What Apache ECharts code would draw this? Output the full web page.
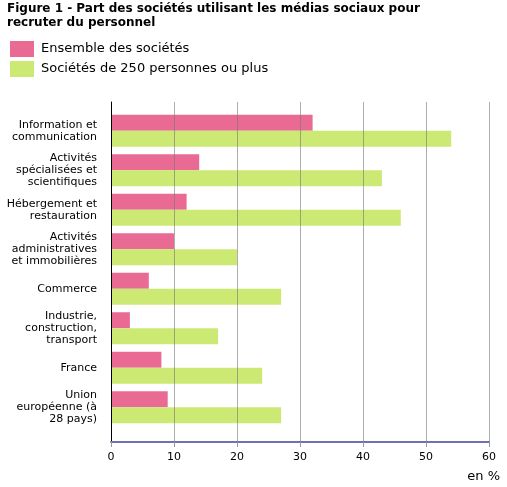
<!DOCTYPE html>
<html><head><meta charset="utf-8">
<script src="https://cdn.jsdelivr.net/npm/echarts@6/dist/echarts.min.js"></script>
<style>html,body{margin:0;padding:0;background:#fff}#c{width:507px;height:487px}</style>
</head><body><div id="c"></div>
<script>
var categories = ["Information et\ncommunication", "Activités\nspécialisées et\nscientifiques", "Hébergement et\nrestauration", "Activités\nadministratives\net immobilières", "Commerce", "Industrie,\nconstruction,\ntransport", "France", "Union\neuropéenne (à\n28 pays)"];
var seriesNames = ["Ensemble des sociétés", "Sociétés de 250 personnes ou plus"];
var ensemble = [32, 14, 12, 10, 6, 3, 8, 9];
var grandes = [54, 43, 46, 20, 27, 17, 24, 27];
var titleText = "Figure 1 - Part des sociétés utilisant les médias sociaux pour\nrecruter du personnel";
var unitText = "en %";
var colors = ["#e96a93", "#cce974"];
var font = "DejaVu Sans";

var chart = echarts.init(document.getElementById('c'), null, {renderer: 'canvas'});
chart.setOption({
  animation: false,
  title: {text: titleText, left: 2, top: -3, textStyle: {fontFamily: font, fontSize: 12, fontWeight: 'bold', color: '#000', lineHeight: 14}},
  legend: {
    orient: 'vertical', left: 5, top: 36, itemWidth: 24, itemHeight: 16, itemGap: 4, icon: 'rect',
    textStyle: {fontFamily: font, fontSize: 13, color: '#000', padding: [0,0,0,2]},
    data: seriesNames
  },
  grid: [
    {left: 111, right: 18, top: 102, height: 340, containLabel: false},
    {left: 111, right: 18, top: 111, height: 316, containLabel: false}
  ],
  xAxis: [
    {gridIndex: 0, type: 'value', min: 0, max: 60, interval: 10, z: 10,
     axisLine: {show: true, lineStyle: {color: '#7070b8', width: 2}},
     axisTick: {show: true, length: 5, lineStyle: {color: '#999'}},
     axisLabel: {fontFamily: font, fontSize: 11, color: '#000', margin: 10},
     splitLine: {show: true, lineStyle: {color: 'rgba(120,120,120,0.6)', width: 1}}},
    {gridIndex: 1, type: 'value', min: 0, max: 60, show: false, splitLine: {show: false}}
  ],
  yAxis: [
    {gridIndex: 0, type: 'value', min: 0, max: 1, z: 10,
     axisLine: {show: true, lineStyle: {color: '#000', width: 1}},
     axisTick: {show: false}, axisLabel: {show: false}, splitLine: {show: false}},
    {gridIndex: 1, type: 'category', inverse: true, data: categories,
     axisLine: {show: false}, axisTick: {show: false},
     axisLabel: {fontFamily: font, fontSize: 11, color: '#000', margin: 14, lineHeight: 12, align: 'right'}}
  ],
  graphic: [
    {type: 'text', right: 7, top: 470, style: {text: unitText, font: '13px "DejaVu Sans"', fill: '#000'}}
  ],
  series: [
    {name: seriesNames[0], type: 'bar', xAxisIndex: 1, yAxisIndex: 1, data: ensemble, barWidth: 16, barGap: '0%',
     itemStyle: {color: colors[0]}},
    {name: seriesNames[1], type: 'bar', xAxisIndex: 1, yAxisIndex: 1, data: grandes, barWidth: 16, barGap: '0%',
     itemStyle: {color: colors[1]}}
  ]
});
</script></body></html>
